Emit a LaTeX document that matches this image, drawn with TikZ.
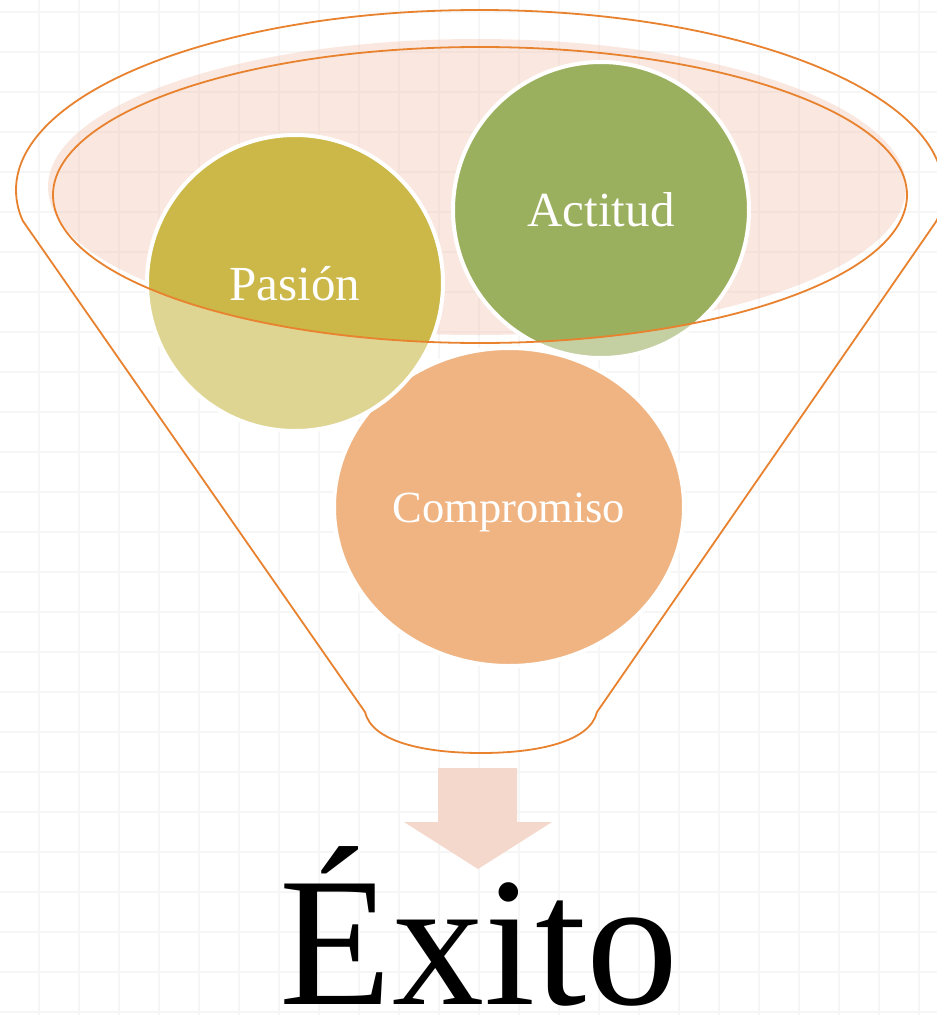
\documentclass[tikz,border=0pt]{standalone}
\usepackage{fontspec}
\setmainfont{Liberation Serif}
\definecolor{rim}{HTML}{E8822F}
\definecolor{peach}{HTML}{F2C4AE}
\definecolor{gridc}{HTML}{F6F6F6}
\definecolor{pasdark}{HTML}{CBB848}
\definecolor{paslight}{HTML}{DFD593}
\definecolor{actdark}{HTML}{9BB05E}
\definecolor{actlight}{HTML}{C4D0A2}
\definecolor{compc}{HTML}{F0B483}
\definecolor{arrowc}{HTML}{F5D8CC}
\tikzset{
  rimline/.style={draw=rim, line width=1.8},
  whiteedge/.style={draw=white, line width=4},
  balltext/.style={text=white, anchor=base, inner sep=0pt},
}
\begin{document}
\begin{tikzpicture}[x=1pt,y=-1pt]
\useasboundingbox (0,0) rectangle (937,1015);
\fill[white] (0,0) rectangle (937,1015);
% faint grid
\foreach \gx in {39,79,...,919} \draw[gridc, line width=1.2] (\gx,0) -- (\gx,1015);
\foreach \gy in {12,52,...,1012} \draw[gridc, line width=1.2] (0,\gy) -- (937,\gy);
% inner rim fill (offset)
\fill[peach, fill opacity=0.38] (477,187) ellipse [x radius=429, y radius=148];
% Compromiso
\path[fill=compc, whiteedge] (509,507) ellipse [x radius=175, y radius=159];
% Pasion
\fill[paslight] (295,283) circle [radius=148];
\begin{scope}
  \clip (480,195) ellipse [x radius=427, y radius=148];
  \fill[pasdark] (295,283) circle [radius=148];
\end{scope}
\draw[whiteedge] (295,283) circle [radius=148];
% Actitud
\fill[actlight] (601,210) circle [radius=148];
\begin{scope}
  \clip (480,195) ellipse [x radius=427, y radius=148];
  \fill[actdark] (601,210) circle [radius=148];
\end{scope}
\draw[whiteedge] (601,210) circle [radius=148];
% inner rim stroke
\draw[rimline] (480,195) ellipse [x radius=427, y radius=148];
% outer rim (top part)
\begin{scope}
  \clip (-10,-10) rectangle (960,221);
  \draw[rimline] (479.7,190) ellipse [x radius=463.7, y radius=180];
\end{scope}
\coordinate (lc) at (22.9,221);
\coordinate (rc) at (936.5,221);
\coordinate (lb) at (365,712);
\coordinate (rb) at (597,712);
\coordinate (bm) at (481,753);
\draw[rimline, line join=round] (lc) -- (lb)
  .. controls (372,742) and (425,753) .. (bm)
  .. controls (537,753) and (590,742) .. (rb) -- (rc);
% labels
\node[balltext, font=\fontsize{49}{55}\selectfont] (pasion) at (295,300) {Pasión};
\node[balltext, font=\fontsize{49}{55}\selectfont] (actitud) at (601,226) {Actitud};
\node[balltext, font=\fontsize{44.5}{50}\selectfont] (compromiso) at (509,522) {Compromiso};
% arrow
\fill[arrowc] (438,768) -- (517,768) -- (517,822) -- (552,822) -- (478,869) -- (404,822) -- (438,822) -- cycle;
\node[anchor=base, inner sep=0pt, text depth=0pt, font=\fontsize{184}{188}\selectfont] (exito) at (479,1004) {Éxito};
\end{tikzpicture}
\end{document}
